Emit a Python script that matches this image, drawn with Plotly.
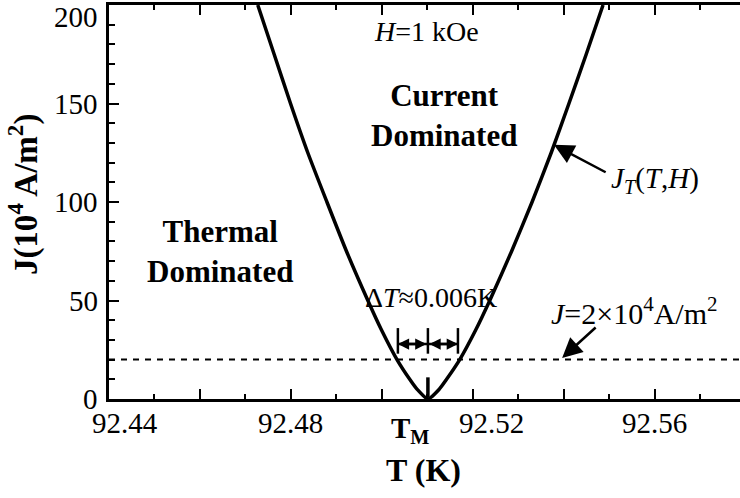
import plotly.graph_objects as go

# ---- data ----
T_M = 92.5101
curve_T = [92.4727, 92.4763, 92.4799, 92.4837, 92.4879, 92.4922, 92.4969, 92.4999,
           92.5033, 92.5061, 92.5077, 92.5101,
           92.5126, 92.5142, 92.5171, 92.5206, 92.5237, 92.5285, 92.5330, 92.5372,
           92.5411, 92.5449, 92.5486]
curve_J = [200, 175, 150, 125, 100, 75, 50, 35,
           20, 10, 5, 0,
           5, 10, 20, 35, 50, 75, 100, 125,
           150, 175, 200]
J_level = 20
x_range = [92.44, 92.5787]
y_range = [0, 200]
xtick_major = [92.44, 92.46, 92.48, 92.50, 92.52, 92.54, 92.56]
xlabel_vals = [92.44, 92.48, 92.52, 92.56]
xlabel_text = ["92.44", "92.48", "92.52", "92.56"]
xlabel_shift = [16, 0, 19, 0]
ytick_vals = [0, 50, 100, 150, 200]
ytick_text = ["0", "50", "100", "150", "200"]
dT_left, dT_right = 92.5035, 92.5167
dT_J = 27.9
dT_bar = [23.0, 36.0]

FONT = "Liberation Serif"

fig = go.Figure()
fig.add_trace(go.Scatter(x=curve_T, y=curve_J, mode="lines",
                         line=dict(color="black", width=3.5, shape="spline", smoothing=0.6),
                         showlegend=False, hoverinfo="skip", cliponaxis=True))
fig.add_trace(go.Scatter(x=[x_range[0], x_range[1]], y=[J_level, J_level], mode="lines",
                         line=dict(color="black", width=2, dash="6px,6px"),
                         showlegend=False, hoverinfo="skip"))

shapes = []
for xv in [dT_left, T_M, dT_right]:
    shapes.append(dict(type="line", xref="x", yref="y", x0=xv, x1=xv, y0=dT_bar[0], y1=dT_bar[1],
                       line=dict(color="black", width=2.5)))
shapes.append(dict(type="line", xref="x", yref="y", x0=dT_left, x1=dT_right, y0=dT_J, y1=dT_J,
                   line=dict(color="black", width=2.5)))
# short thick marker at T_M on the axis
shapes.append(dict(type="line", xref="x", yref="y", x0=T_M, x1=T_M, y0=1, y1=11,
                   line=dict(color="black", width=3.5)))

ann = []
# y tick labels
for v, t in zip(ytick_vals, ytick_text):
    ann.append(dict(x=0, y=v, xref="paper", yref="y", text=t, showarrow=False,
                    xanchor="right", yanchor="middle", xshift=-9,
                    yshift=(-12 if v == 200 else 0),
                    font=dict(family=FONT, size=29, color="black")))
# x tick labels
for v, t, s in zip(xlabel_vals, xlabel_text, xlabel_shift):
    ann.append(dict(x=v, y=0, xref="x", yref="paper", text=t, showarrow=False,
                    xanchor="center", yanchor="middle", xshift=s, yshift=-24,
                    font=dict(family=FONT, size=29, color="black")))
ann.append(dict(x=T_M, y=0, xref="x", yref="paper", text="<b>T<sub>M</sub></b>", showarrow=False,
                xanchor="center", yanchor="middle", xshift=-17, yshift=-31,
                font=dict(family=FONT, size=29, color="black")))
# axis titles
ann.append(dict(x=0.5, y=0, xref="paper", yref="paper", text="<b>T (K)</b>", showarrow=False,
                xanchor="center", yanchor="middle", xshift=423 - (109 + 631 / 2), yshift=-71,
                font=dict(family=FONT, size=32, color="black")))
ann.append(dict(x=0, y=0.52, xref="paper", yref="paper", text="<b>J(10<sup>4</sup> A/m<sup>2</sup>)</b>",
                showarrow=False, textangle=-90, xanchor="center", yanchor="middle", xshift=-86,
                font=dict(family=FONT, size=33, color="black")))
# region texts
ann.append(dict(x=92.5098, y=186.5, xref="x", yref="y", text="<i>H</i>=1 kOe", showarrow=False,
                font=dict(family=FONT, size=28, color="black")))
ann.append(dict(x=92.5136, y=144, xref="x", yref="y", text="<b>Current<br>Dominated</b>", showarrow=False,
                font=dict(family=FONT, size=31, color="black")))
ann.append(dict(x=92.4645, y=75, xref="x", yref="y", text="<b>Thermal<br>Dominated</b>", showarrow=False,
                font=dict(family=FONT, size=31, color="black")))
ann.append(dict(x=92.5108, y=51.3, xref="x", yref="y", text="Δ<i>T</i>≈0.006K", showarrow=False,
                font=dict(family=FONT, size=28, color="black")))
ann.append(dict(x=92.5498, y=111, xref="x", yref="y", text="<i>J<sub>T</sub></i>(<i>T</i>,<i>H</i>)",
                showarrow=False, xanchor="left",
                font=dict(family=FONT, size=29, color="black")))
ann.append(dict(x=92.5556, y=44.5, xref="x", yref="y", text="<i>J</i>=2×10<sup>4</sup>A/m<sup>2</sup>",
                showarrow=False, font=dict(family=FONT, size=30, color="black")))
# arrows
arrow = dict(showarrow=True, arrowhead=2, arrowsize=1.6, arrowwidth=2.5, arrowcolor="black", text="",
             xref="x", yref="y", axref="x", ayref="y")
small = dict(arrow, arrowsize=0.9)
ann.append(dict(x=92.5378, y=129, ax=92.5495, ay=114.7, **arrow))
ann.append(dict(x=92.5396, y=20.8, ax=92.5473, ay=37, **arrow))
ann.append(dict(x=dT_left, y=dT_J, ax=T_M, ay=dT_J, arrowside="end+start", **small))
ann.append(dict(x=dT_right, y=dT_J, ax=T_M, ay=dT_J, arrowside="end+start", **small))

fig.update_layout(
    width=740, height=498,
    margin=dict(l=109, r=0, t=5, b=99),
    paper_bgcolor="white", plot_bgcolor="white",
    shapes=shapes, annotations=ann,
    font=dict(family=FONT, size=28, color="black"),
    xaxis=dict(range=x_range, showgrid=False, zeroline=False, showline=True, linecolor="black",
               linewidth=3, mirror="ticks", ticks="inside", ticklen=10, tickwidth=2,
               tickcolor="black", tickvals=xtick_major, showticklabels=False,
               minor=dict(dtick=0.01, tick0=92.44, ticks="inside", ticklen=5, tickwidth=2,
                          tickcolor="black", showgrid=False)),
    yaxis=dict(range=y_range, showgrid=False, zeroline=False, showline=True, linecolor="black",
               linewidth=3, ticks="inside", ticklen=10, tickwidth=2, tickcolor="black",
               tickvals=ytick_vals, showticklabels=False,
               minor=dict(dtick=10, ticks="inside", ticklen=6, tickwidth=2, tickcolor="black",
                          showgrid=False)),
)
fig.write_html("out.html")
